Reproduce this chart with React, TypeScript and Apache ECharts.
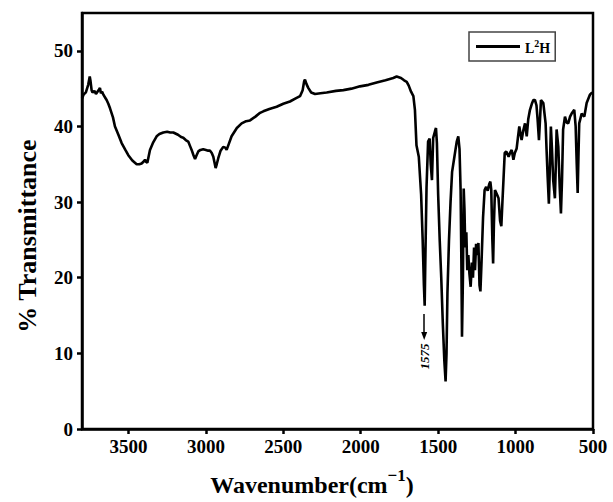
import React, { useEffect, useRef } from "react";
import * as echarts from "echarts";

const wavenumbers = [
  3800, 3790, 3775, 3760, 3750, 3745, 3738, 3732, 3720, 3710, 3700, 3690, 3684, 3678, 3670, 3662, 3650, 3641, 3630, 3619,
  3600, 3587, 3565, 3544, 3520, 3501, 3475, 3447, 3430, 3415, 3400, 3393, 3385, 3378, 3370, 3361, 3340, 3318, 3300, 3275,
  3250, 3230, 3210, 3180, 3160, 3146, 3130, 3114, 3100, 3092, 3080, 3070, 3060, 3049, 3035, 3017, 3000, 2985, 2973, 2962,
  2952, 2945, 2937, 2930, 2920, 2905, 2888, 2875, 2866, 2850, 2834, 2800, 2769, 2740, 2715, 2680, 2650, 2629, 2590, 2543,
  2500, 2457, 2420, 2392, 2375, 2365, 2360, 2350, 2339, 2320, 2295, 2260, 2220, 2160, 2112, 2060, 2005, 1950, 1897, 1840,
  1790, 1768, 1740, 1720, 1703, 1690, 1675, 1660, 1650, 1640, 1625, 1610, 1600, 1592, 1587, 1583, 1575, 1565, 1555, 1548,
  1540, 1532, 1520, 1514, 1508, 1500, 1490, 1480, 1470, 1460, 1452, 1446, 1440, 1430, 1420, 1410, 1395, 1380, 1370, 1362,
  1355, 1350, 1346, 1340, 1335, 1330, 1325, 1318, 1312, 1305, 1298, 1290, 1282, 1275, 1268, 1262, 1255, 1248, 1240, 1233,
  1227, 1220, 1210, 1200, 1190, 1180, 1170, 1163, 1157, 1150, 1145, 1140, 1133, 1120, 1110, 1100, 1092, 1085, 1078, 1070,
  1060, 1045, 1036, 1025, 1014, 1005, 993, 985, 976, 968, 961, 950, 939, 928, 918, 907, 895, 885, 875, 865,
  858, 849, 842, 836, 821, 806, 800, 793, 785, 778, 772, 765, 757, 746, 740, 735, 724, 715, 707, 700,
  693, 681, 670, 660, 648, 638, 621, 612, 605, 599, 594, 589, 573, 556, 541, 520, 505,
];

const transmittance = [
  43.7, 44.2, 44.5, 45.5, 46.6, 46.0, 44.8, 44.5, 44.7, 44.3, 44.6, 44.9, 45.1, 44.4, 44.6, 44.2, 43.8, 43.5, 43.0, 42.4,
  41.2, 40.0, 38.9, 37.8, 36.9, 36.2, 35.5, 35.0, 35.0, 35.1, 35.4, 35.6, 35.3, 35.2, 36.0, 36.9, 37.9, 38.7, 39.0, 39.2,
  39.3, 39.2, 39.2, 38.9, 38.6, 38.5, 38.2, 38.0, 37.3, 36.9, 36.2, 35.7, 36.2, 36.7, 36.9, 37.0, 36.9, 36.8, 36.8, 36.5,
  36.0, 35.3, 34.5, 35.0, 35.8, 36.8, 37.3, 37.2, 36.9, 37.8, 38.7, 39.8, 40.4, 40.7, 40.8, 41.3, 41.8, 42.0, 42.3, 42.6,
  43.0, 43.3, 43.7, 44.0, 44.8, 46.0, 46.2, 45.6, 45.1, 44.5, 44.3, 44.4, 44.5, 44.7, 44.8, 45.0, 45.3, 45.5, 45.8, 46.1,
  46.4, 46.6, 46.4, 46.1, 45.9, 45.4, 44.6, 44.0, 42.2, 37.5, 36.0, 31.0, 25.0, 19.0, 16.3, 22.0, 32.0, 38.0, 38.4, 35.0,
  32.9, 38.5, 39.4, 39.8, 37.8, 31.0, 25.0, 20.0, 14.0, 9.0, 6.3, 10.0, 18.0, 25.0, 30.0, 34.0, 36.0, 38.0, 38.7, 37.0,
  31.6, 22.0, 12.2, 20.0, 31.8, 29.0, 24.0, 26.0, 21.0, 23.0, 20.5, 18.8, 22.0, 20.0, 24.0, 21.0, 24.5, 23.0, 24.6, 19.0,
  18.2, 22.0, 28.0, 31.6, 32.0, 31.5, 32.4, 32.7, 31.6, 25.0, 21.9, 27.0, 31.6, 31.0, 30.5, 27.5, 26.8, 30.0, 33.0, 36.5,
  36.7, 36.0, 36.5, 36.9, 35.6, 36.5, 37.1, 38.5, 40.0, 39.0, 38.2, 39.5, 40.4, 38.7, 41.0, 42.2, 43.0, 43.5, 43.5, 42.8,
  41.0, 38.2, 41.0, 43.5, 43.1, 40.4, 37.0, 33.4, 29.8, 35.0, 40.0, 37.0, 32.9, 30.5, 35.0, 39.6, 37.3, 32.0, 28.5, 33.0,
  39.6, 41.3, 40.5, 40.4, 41.3, 41.7, 42.2, 40.0, 35.0, 31.2, 36.0, 40.4, 41.7, 41.3, 43.1, 44.2, 44.5,
];

const xTicks = [500, 1000, 1500, 2000, 2500, 3000, 3500];
const yTicks = [0, 10, 20, 30, 40, 50];
const seriesName = "L2H";
const peakLabel = "1575";
const peakWavenumber = 1590;

const FONT = "'Liberation Serif', 'Times New Roman', serif";

export default function App() {
  const ref = useRef<HTMLDivElement>(null);

  useEffect(() => {
    document.body.style.margin = "0";
    const chart = echarts.init(ref.current!, null, { renderer: "svg" });
    const data = wavenumbers.map((w, i) => [w, transmittance[i]]);
    chart.setOption({
      animation: false,
      backgroundColor: "#ffffff",
      grid: {
        left: 82,
        right: 20,
        top: 13,
        bottom: 73,
        show: true,
        borderColor: "#000",
        borderWidth: 2.5,
      },
      legend: {
        show: true,
        left: 469,
        top: 32,
        orient: "horizontal",
        icon: "rect",
        itemWidth: 44,
        itemHeight: 3,
        itemGap: 5,
        padding: [6, 5, 6, 7],
        borderColor: "#444",
        borderWidth: 1.5,
        data: [seriesName],
        formatter: () => "{a|L}{s|2}{a|H}",
        textStyle: {
          color: "#000",
          rich: {
            a: { fontFamily: FONT, fontWeight: "bold", fontSize: 14, lineHeight: 17, verticalAlign: "bottom" },
            s: { fontFamily: FONT, fontWeight: "bold", fontSize: 10, lineHeight: 17, verticalAlign: "top" },
          },
        },
      },
      xAxis: {
        type: "value",
        min: 500,
        max: 3800,
        interval: 500,
        inverse: true,
        splitLine: { show: false },
        axisLine: { show: true, lineStyle: { color: "#000", width: 2.5 } },
        axisTick: { show: true, length: 5, inside: false, lineStyle: { color: "#000", width: 2.5 }, customValues: xTicks },
        axisLabel: {
          customValues: xTicks,
          formatter: (v: number) => String(v),
          color: "#000",
          fontFamily: FONT,
          fontWeight: "bold",
          fontSize: 19,
          margin: 8,
        },
      },
      yAxis: {
        type: "value",
        min: 0,
        max: 55,
        interval: 10,
        splitLine: { show: false },
        axisLine: { show: true, lineStyle: { color: "#000", width: 2.5 } },
        axisTick: { show: true, length: 5, inside: false, lineStyle: { color: "#000", width: 2.5 }, customValues: yTicks },
        axisLabel: {
          customValues: yTicks,
          formatter: (v: number) => String(v),
          color: "#000",
          fontFamily: FONT,
          fontWeight: "bold",
          fontSize: 19,
          margin: 9,
        },
      },
      series: [
        {
          name: seriesName,
          type: "line",
          data,
          showSymbol: false,
          symbol: "none",
          lineStyle: { color: "#000", width: 2.6 },
          itemStyle: { color: "#000" },
          markLine: {
            silent: true,
            symbol: ["none", "triangle"],
            symbolSize: [6, 8],
            label: { show: false },
            lineStyle: { color: "#000", width: 1.5, type: "solid" },
            data: [[{ coord: [peakWavenumber, 15.2] }, { coord: [peakWavenumber, 12.3] }]],
          },
          markPoint: {
            silent: true,
            symbol: "circle",
            symbolSize: 0,
            data: [{ coord: [peakWavenumber, 9.6], value: peakLabel }],
            label: {
              show: true,
              position: "inside",
              rotate: 90,
              formatter: peakLabel,
              color: "#000",
              fontFamily: FONT,
              fontWeight: "bold",
              fontStyle: "italic",
              fontSize: 13,
            },
          },
        },
      ],
      graphic: [
        {
          type: "text",
          x: 27,
          y: 236,
          rotation: Math.PI / 2,
          style: {
            text: "% Transmittance",
            fill: "#000",
            font: `bold 26px ${FONT}`,
            textAlign: "center",
            textVerticalAlign: "middle",
          },
        },
        {
          type: "text",
          x: 312,
          y: 482,
          style: {
            text: "{b|Wavenumber(cm}{s|−1}{b|)}",
            fill: "#000",
            textAlign: "center",
            textVerticalAlign: "middle",
            rich: {
              b: { font: `bold 24px ${FONT}`, fill: "#000", lineHeight: 30, verticalAlign: "bottom" },
              s: { font: `bold 17px ${FONT}`, fill: "#000", lineHeight: 30, verticalAlign: "top" },
            },
          },
        },
      ],
    });
    return () => chart.dispose();
  }, []);

  return (
    <div
      ref={ref}
      style={{ position: "fixed", left: 0, top: 0, width: 613, height: 502 }}
    />
  );
}
